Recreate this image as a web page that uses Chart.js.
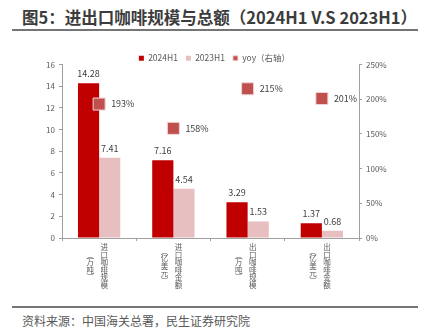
<!DOCTYPE html>
<html>
<head>
<meta charset="utf-8">
<script src="https://cdn.jsdelivr.net/npm/chart.js@4.4.1/dist/chart.umd.min.js"></script>
<style>
body { margin: 0; width: 429px; height: 335px; background: #fff; position: relative; overflow: hidden; font-family: "Noto Sans CJK SC", sans-serif; }
#title { position: absolute; left: 22px; top: 6px; font-size: 16.5px; font-weight: bold; color: #3c3c3c; white-space: nowrap; line-height: 22px; }
.rule { position: absolute; left: 12px; width: 406px; height: 2px; background: #757575; }
#src { position: absolute; left: 22px; top: 312px; font-size: 12px; line-height: 18px; color: #595959; white-space: nowrap; }
#wrap { position: absolute; left: 0; top: 40px; width: 429px; height: 260px; }
</style>
</head>
<body>
<div id="title">图5：进出口咖啡规模与总额（2024H1 V.S 2023H1）</div>
<div class="rule" style="top:29px"></div>
<div id="wrap"><canvas id="chart"></canvas></div>
<div class="rule" style="top:306px"></div>
<div id="src">资料来源：中国海关总署，民生证券研究院</div>
<script>
const categories = ['进口咖啡规模', '进口咖啡金额', '出口咖啡规模', '出口咖啡金额'];
const units = ['︵万吨︶', '︵亿美元︶', '︵万吨︶', '︵亿美元︶'];
const h1_2024 = [14.28, 7.16, 3.29, 1.37];
const h1_2023 = [7.41, 4.54, 1.53, 0.68];
const yoy = [193, 158, 215, 201];

const axisColor = '#a0a0a0';
const textColor = '#595959';
const font = 'Noto Sans CJK SC';

// values above bars, yoy labels to the right of the squares
const valueLabels = {
    id: 'valueLabels',
    afterDatasetsDraw(chart) {
        const ctx = chart.ctx;
        ctx.save();
        ctx.font = '9px "' + font + '"';
        ctx.fillStyle = '#404040';
        chart.data.datasets.forEach((ds, i) => {
            const meta = chart.getDatasetMeta(i);
            meta.data.forEach((el, j) => {
                if (ds.type === 'line') {
                    ctx.textAlign = 'left';
                    ctx.textBaseline = 'middle';
                    ctx.fillText(ds.data[j] + '%', el.x + 12, el.y);
                } else {
                    ctx.textAlign = 'center';
                    ctx.textBaseline = 'bottom';
                    ctx.fillText(ds.data[j].toFixed(2), el.x, el.y - 5);
                }
            });
        });
        ctx.restore();
    }
};

// vertical category names, unit in a second column to the left
const verticalLabels = {
    id: 'verticalLabels',
    afterDraw(chart) {
        const ctx = chart.ctx;
        const x = chart.scales.x;
        const step = 7.5;
        const mid = x.bottom - 34;
        ctx.save();
        ctx.font = '7.5px "' + font + '"';
        ctx.fillStyle = textColor;
        ctx.textAlign = 'center';
        ctx.textBaseline = 'middle';
        categories.forEach((name, i) => {
            const px = x.getPixelForValue(i);
            [[name, px + 5], [units[i], px - 9]].forEach(([txt, cx]) => {
                const chars = Array.from(txt);
                const top = mid - (chars.length - 1) * step / 2;
                chars.forEach((c, k) => ctx.fillText(c, cx, top + k * step));
            });
        });
        ctx.restore();
    }
};

// legend sits lower and closer to the plot
const legendShift = {
    id: 'legendShift',
    beforeInit(chart) {
        const fit = chart.legend.fit;
        chart.legend.fit = function () {
            fit.call(this);
            this.height -= 8;
        };
    }
};

new Chart(document.querySelector('#chart').getContext('2d'), {
    data: {
        labels: categories,
        datasets: [
            {
                type: 'bar',
                label: '2024H1',
                data: h1_2024,
                backgroundColor: '#C00000',
                yAxisID: 'y',
                order: 1
            },
            {
                type: 'bar',
                label: '2023H1',
                data: h1_2023,
                backgroundColor: '#E8BFC1',
                yAxisID: 'y',
                order: 1
            },
            {
                type: 'line',
                label: 'yoy（右轴）',
                data: yoy,
                showLine: false,
                pointStyle: 'rect',
                pointRadius: 8.5,
                backgroundColor: '#C0504D',
                borderColor: '#F0D5D4',
                borderWidth: 1,
                yAxisID: 'y1',
                order: 0
            }
        ]
    },
    options: {
        responsive: true,
        maintainAspectRatio: false,
        animation: false,
        layout: { padding: { top: 6, bottom: 0 } },
        datasets: { bar: { categoryPercentage: 0.57, barPercentage: 1 } },
        plugins: {
            tooltip: { enabled: false },
            legend: {
                position: 'top',
                labels: {
                    font: { family: font, size: 8.5 },
                    color: textColor,
                    boxWidth: 5,
                    boxHeight: 5,
                    padding: 8,
                    sort: (a, b) => a.datasetIndex - b.datasetIndex
                }
            }
        },
        scales: {
            x: {
                grid: { offset: true, drawOnChartArea: false, color: axisColor, tickLength: 3 },
                border: { color: axisColor },
                ticks: { display: false },
                afterFit: s => { s.height = 62; }
            },
            y: {
                position: 'left',
                min: 0,
                max: 16,
                ticks: { stepSize: 2, font: { family: font, size: 8 }, color: textColor, padding: 4 },
                grid: { drawOnChartArea: false, color: axisColor, tickLength: 3 },
                border: { color: axisColor },
                afterFit: s => { s.width = 62; }
            },
            y1: {
                position: 'right',
                min: 0,
                max: 250,
                ticks: { stepSize: 50, font: { family: font, size: 8 }, color: textColor, padding: 4, callback: v => v + '%' },
                grid: { drawOnChartArea: false, color: axisColor, tickLength: 3 },
                border: { color: axisColor },
                afterFit: s => { s.width = 70; }
            }
        }
    },
    plugins: [valueLabels, verticalLabels, legendShift]
});
</script>
</body>
</html>
